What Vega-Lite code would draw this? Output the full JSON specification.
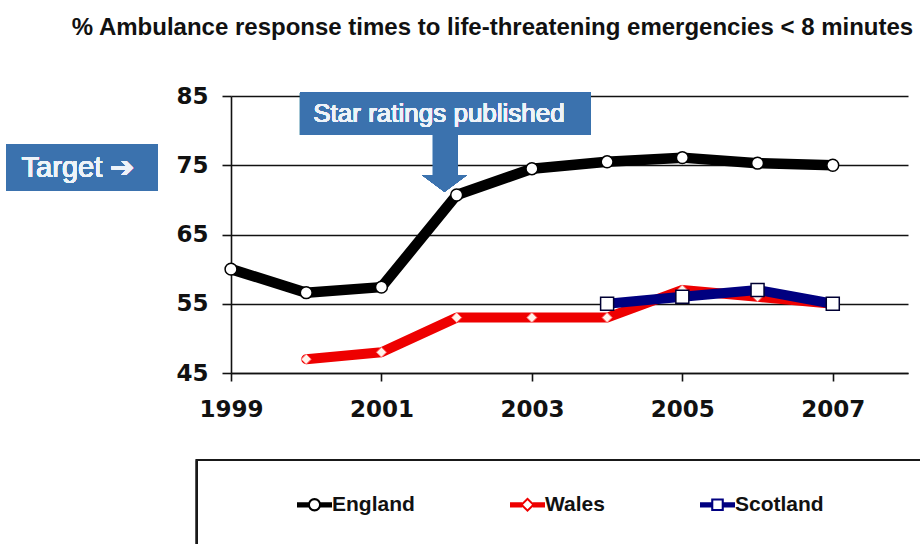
{
  "$schema": "https://vega.github.io/schema/vega-lite/v6.json",
  "autosize": {"type": "none"},
  "width": 677,
  "height": 277,
  "padding": {"left": 231, "top": 96, "right": 12, "bottom": 171},
  "background": "white",
  "title": {
    "text": "% Ambulance response times to life-threatening emergencies < 8 minutes",
    "font": "Liberation Sans",
    "fontSize": 24,
    "fontWeight": "bold",
    "color": "#111",
    "anchor": "middle",
    "frame": "group",
    "dx": -77,
    "offset": 45
  },
  "data": {
    "values": [
      {"country": "England", "year": 1999, "value": 60},
      {"country": "England", "year": 2000, "value": 56.6},
      {"country": "England", "year": 2001, "value": 57.4},
      {"country": "England", "year": 2002, "value": 70.7},
      {"country": "England", "year": 2003, "value": 74.5},
      {"country": "England", "year": 2004, "value": 75.5},
      {"country": "England", "year": 2005, "value": 76.1},
      {"country": "England", "year": 2006, "value": 75.3},
      {"country": "England", "year": 2007, "value": 75},
      {"country": "Wales", "year": 2000, "value": 47},
      {"country": "Wales", "year": 2001, "value": 48},
      {"country": "Wales", "year": 2002, "value": 53},
      {"country": "Wales", "year": 2003, "value": 53},
      {"country": "Wales", "year": 2004, "value": 53},
      {"country": "Wales", "year": 2005, "value": 57},
      {"country": "Wales", "year": 2006, "value": 56},
      {"country": "Wales", "year": 2007, "value": 55},
      {"country": "Scotland", "year": 2004, "value": 55},
      {"country": "Scotland", "year": 2005, "value": 56},
      {"country": "Scotland", "year": 2006, "value": 57},
      {"country": "Scotland", "year": 2007, "value": 55}
    ]
  },
  "layer": [
    {
      "transform": [{"filter": "datum.country === 'England'"}],
      "mark": {"type": "line", "color": "#000", "strokeWidth": 10.5, "strokeJoin": "round", "strokeCap": "round"},
      "encoding": {
        "x": {
          "field": "year", "type": "quantitative", "title": null,
          "scale": {"domain": [1999, 2008], "nice": false, "zero": false},
          "axis": {
            "values": [1999, 2001, 2003, 2005, 2007], "format": "d", "grid": false,
            "domainColor": "#111", "domainWidth": 1.6,
            "tickColor": "#111", "tickWidth": 1.6, "tickSize": 8,
            "labelFont": "DejaVu Sans", "labelFontWeight": "bold", "labelFontSize": 23,
            "labelColor": "#111", "labelPadding": 17, "labelFlush": false, "labelOverlap": false
          }
        },
        "y": {
          "field": "value", "type": "quantitative", "title": null,
          "scale": {"domain": [45, 85], "nice": false, "zero": false},
          "axis": {
            "values": [45, 55, 65, 75, 85], "grid": true, "gridColor": "#111", "gridWidth": 1.6, "gridOpacity": 1,
            "domainColor": "#111", "domainWidth": 1.6,
            "tickColor": "#111", "tickWidth": 1.6, "tickSize": 9,
            "labelFont": "DejaVu Sans", "labelFontWeight": "bold", "labelFontSize": 23,
            "labelColor": "#111", "labelPadding": 14, "labelFlush": false, "labelOverlap": false
          }
        }
      }
    },
    {
      "transform": [{"filter": "datum.country === 'England'"}],
      "mark": {"type": "point", "shape": "circle", "filled": true, "fill": "white", "stroke": "#000", "strokeWidth": 1.5, "size": 140, "opacity": 1},
      "encoding": {
        "x": {"field": "year", "type": "quantitative"},
        "y": {"field": "value", "type": "quantitative"}
      }
    },
    {
      "transform": [{"filter": "datum.country === 'Wales'"}],
      "mark": {"type": "line", "color": "#ee0000", "strokeWidth": 10, "strokeJoin": "round", "strokeCap": "round"},
      "encoding": {
        "x": {"field": "year", "type": "quantitative"},
        "y": {"field": "value", "type": "quantitative"}
      }
    },
    {
      "transform": [{"filter": "datum.country === 'Wales'"}],
      "mark": {"type": "point", "shape": "diamond", "filled": true, "fill": "#fff4ec", "stroke": "#ff7070", "strokeWidth": 1, "size": 100, "opacity": 1},
      "encoding": {
        "x": {"field": "year", "type": "quantitative"},
        "y": {"field": "value", "type": "quantitative"}
      }
    },
    {
      "transform": [{"filter": "datum.country === 'Scotland'"}],
      "mark": {"type": "line", "color": "#000080", "strokeWidth": 10, "strokeJoin": "round", "strokeCap": "round"},
      "encoding": {
        "x": {"field": "year", "type": "quantitative"},
        "y": {"field": "value", "type": "quantitative"}
      }
    },
    {
      "transform": [{"filter": "datum.country === 'Scotland'"}],
      "mark": {"type": "point", "shape": "square", "filled": true, "fill": "white", "stroke": "#000033", "strokeWidth": 1.5, "size": 169, "opacity": 1},
      "encoding": {
        "x": {"field": "year", "type": "quantitative"},
        "y": {"field": "value", "type": "quantitative"}
      }
    },
    {
      "mark": {"type": "rect", "color": "#3b72ae"},
      "encoding": {
        "x": {"datum": 1996.009, "type": "quantitative"},
        "x2": {"datum": 1998.026},
        "y": {"datum": 78.07, "type": "quantitative"},
        "y2": {"datum": 71.28}
      }
    },
    {
      "mark": {"type": "text", "font": "Liberation Sans", "fontSize": 29, "color": "#eef3f9", "align": "center", "baseline": "middle"},
      "encoding": {
        "x": {"datum": 1996.965, "type": "quantitative"},
        "y": {"datum": 74.6, "type": "quantitative"},
        "text": {"value": "Target ➔"}
      }
    },
    {
      "mark": {"type": "rect", "color": "#3b72ae"},
      "encoding": {
        "x": {"datum": 1999.917, "type": "quantitative"},
        "x2": {"datum": 2003.782},
        "y": {"datum": 85.48, "type": "quantitative"},
        "y2": {"datum": 79.37}
      }
    },
    {
      "mark": {"type": "text", "font": "Liberation Sans", "fontSize": 26, "color": "#eef3f9", "align": "center", "baseline": "middle"},
      "encoding": {
        "x": {"datum": 2001.765, "type": "quantitative"},
        "y": {"datum": 82.47, "type": "quantitative"},
        "text": {"value": "Star ratings published"}
      }
    },
    {
      "mark": {"type": "rect", "color": "#3b72ae"},
      "encoding": {
        "x": {"datum": 2001.685, "type": "quantitative"},
        "x2": {"datum": 2002.008},
        "y": {"datum": 79.37, "type": "quantitative"},
        "y2": {"datum": 73.59}
      }
    },
    {
      "mark": {"type": "point", "filled": true, "color": "#3b72ae", "opacity": 1, "size": 2025, "strokeWidth": 0,
        "shape": "M-1,-0.371L1,-0.371L0,0.371Z"},
      "encoding": {
        "x": {"datum": 2001.838, "type": "quantitative"},
        "y": {"datum": 72.39, "type": "quantitative"}
      }
    },
    {
      "mark": {"type": "rect", "filled": false, "color": "#1a1a1a", "strokeWidth": 1.5},
      "encoding": {
        "x": {"datum": 1998.544, "type": "quantitative"},
        "x2": {"datum": 2008.43},
        "y": {"datum": 32.44, "type": "quantitative"},
        "y2": {"datum": 18.0}
      }
    },
    {
      "mark": {"type": "point", "filled": true, "clip": true, "opacity": 1},
      "encoding": {
        "x": {"datum": 2050, "type": "quantitative"},
        "y": {"datum": 60, "type": "quantitative"},
        "color": {
          "field": "country", "type": "nominal",
          "scale": {"domain": ["England", "Wales", "Scotland"], "range": ["#000000", "#ee0000", "#000080"]},
          "legend": {
            "orient": "none", "legendX": 66, "legendY": 391, "direction": "horizontal", "title": null,
            "padding": 0, "symbolSize": 1225, "symbolOpacity": 1, "symbolStrokeWidth": 0,
            "labelFont": "Liberation Sans", "labelFontWeight": "bold", "labelFontSize": 21, "labelColor": "#111",
            "labelOffset": 0, "columnPadding": 95
          }
        },
        "shape": {
          "field": "country", "type": "nominal",
          "scale": {
            "domain": ["England", "Wales", "Scotland"],
            "range": [
              "M-1,-0.15L-0.34,-0.15L-0.34,0.15L-1,0.15Z M0.34,-0.15L1,-0.15L1,0.15L0.34,0.15Z M0.38,0L0.351,0.145L0.269,0.269L0.145,0.351L0,0.38L-0.145,0.351L-0.269,0.269L-0.351,0.145L-0.38,0L-0.351,-0.145L-0.269,-0.269L-0.145,-0.351L0,-0.38L0.145,-0.351L0.269,-0.269L0.351,-0.145Z M0.26,0L0.24,-0.1L0.184,-0.184L0.1,-0.24L0,-0.26L-0.1,-0.24L-0.184,-0.184L-0.24,-0.1L-0.26,0L-0.24,0.1L-0.184,0.184L-0.1,0.24L0,0.26L0.1,0.24L0.184,0.184L0.24,0.1Z",
              "M-1,-0.15L-0.3,-0.15L-0.3,0.15L-1,0.15Z M0.3,-0.15L1,-0.15L1,0.15L0.3,0.15Z M0.42,0L0,0.42L-0.42,0L0,-0.42Z M0.26,0L0,-0.26L-0.26,0L0,0.26Z",
              "M-1,-0.15L-0.3,-0.15L-0.3,0.15L-1,0.15Z M0.3,-0.15L1,-0.15L1,0.15L0.3,0.15Z M0.36,-0.36L0.36,0.36L-0.36,0.36L-0.36,-0.36Z M0.24,-0.24L-0.24,-0.24L-0.24,0.24L0.24,0.24Z"
            ]
          }
        }
      }
    }
  ],
  "config": {
    "view": {"stroke": null},
    "font": "Liberation Sans"
  }
}
